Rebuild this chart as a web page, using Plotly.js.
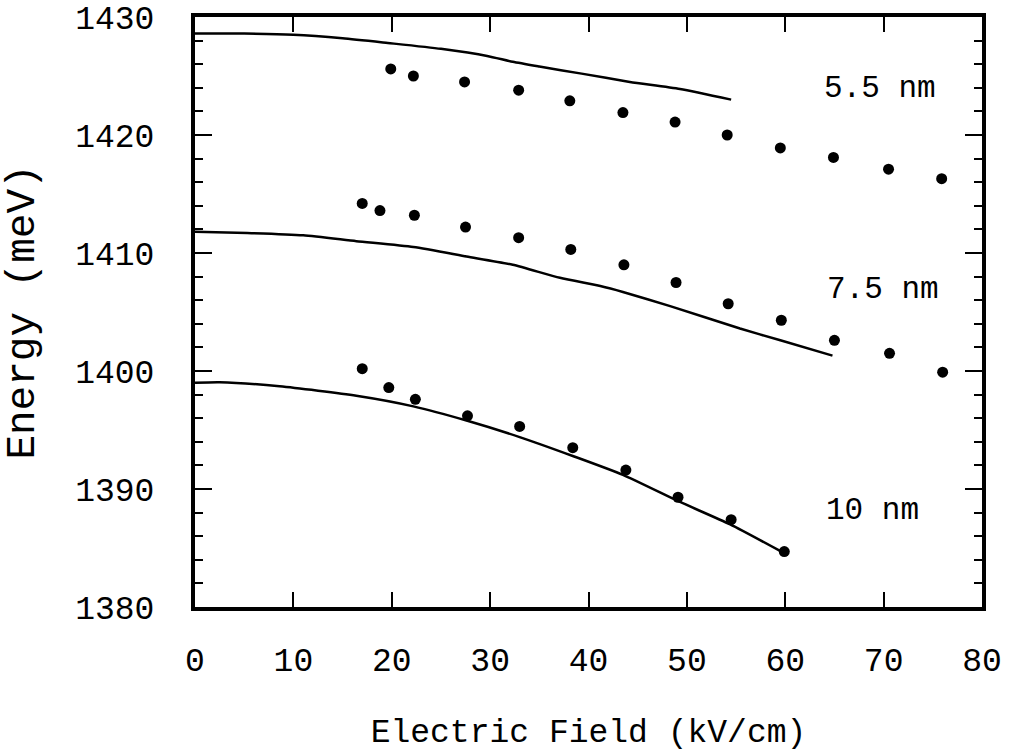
<!DOCTYPE html>
<html>
<head>
<meta charset="utf-8">
<script src="https://cdn.plot.ly/plotly-3.0.1.min.js"></script>
<style>html,body{margin:0;padding:0;background:#fff;}</style>
</head>
<body>
<div id="chart" style="width:1013px;height:755px;"></div>
<script>
// Measured points (Electric field kV/cm, Energy meV)
const x55Pts = [19.9, 22.2, 27.4, 32.9, 38.1, 43.5, 48.8, 54.1, 59.5, 64.9, 70.5, 75.9];
const y55Pts = [1425.6, 1425.0, 1424.5, 1423.8, 1422.9, 1421.9, 1421.1, 1420.0, 1418.9, 1418.1, 1417.1, 1416.3];
const x75Pts = [17.0, 18.8, 22.3, 27.5, 32.9, 38.2, 43.6, 48.9, 54.2, 59.6, 65.0, 70.6, 76.0];
const y75Pts = [1414.2, 1413.6, 1413.2, 1412.2, 1411.3, 1410.3, 1409.0, 1407.5, 1405.7, 1404.3, 1402.6, 1401.5, 1399.9];
const x10Pts = [17.0, 19.7, 22.4, 27.7, 33.0, 38.4, 43.8, 49.1, 54.5, 59.9];
const y10Pts = [1400.2, 1398.6, 1397.6, 1396.2, 1395.3, 1393.5, 1391.6, 1389.3, 1387.4, 1384.7];

// Calculated curves
const x55Fit = [0, 5, 10, 15, 19.6, 25, 29.7, 32.3, 35, 39.3, 44.2, 49.3, 54.5];
const y55Fit = [1428.6, 1428.6, 1428.5, 1428.2, 1427.8, 1427.3, 1426.7, 1426.2, 1425.8, 1425.2, 1424.5, 1423.9, 1423.0];
const x75Fit = [0, 5.3, 11.0, 16.4, 22.2, 27.6, 32.3, 37.1, 41.2, 43.5, 48.3, 55.4, 59.5, 64.8];
const y75Fit = [1411.8, 1411.7, 1411.5, 1411.0, 1410.5, 1409.7, 1409.0, 1407.9, 1407.2, 1406.7, 1405.5, 1403.6, 1402.6, 1401.3];
const x10Fit = [0, 2.5, 8.6, 16.4, 22.2, 27.6, 33.0, 38.4, 43.5, 49.3, 54.4, 59.8];
const y10Fit = [1399.0, 1399.05, 1398.7, 1397.9, 1397.0, 1395.8, 1394.4, 1392.8, 1391.2, 1388.9, 1387.0, 1384.6];

const seriesLabels = ["5.5 nm", "7.5 nm", "10 nm"];
const labelX = [69.6, 69.9, 68.9];
const labelY = [1423.9, 1406.9, 1388.2];

const xTicks = [0, 10, 20, 30, 40, 50, 60, 70, 80];
const yTicks = [1380, 1390, 1400, 1410, 1420, 1430];

const FONT = "Liberation Mono, Courier New, monospace";

const lineStyle = {color: "#000", width: 2.5, shape: "spline", smoothing: 0.6};
const markerStyle = {color: "#000", size: 11};

const traces = [
  {x: x55Fit, y: y55Fit, mode: "lines", line: lineStyle, hoverinfo: "skip"},
  {x: x75Fit, y: y75Fit, mode: "lines", line: lineStyle, hoverinfo: "skip"},
  {x: x10Fit, y: y10Fit, mode: "lines", line: lineStyle, hoverinfo: "skip"},
  {x: x55Pts, y: y55Pts, mode: "markers", marker: markerStyle},
  {x: x75Pts, y: y75Pts, mode: "markers", marker: markerStyle},
  {x: x10Pts, y: y10Pts, mode: "markers", marker: markerStyle}
];

const annotations = seriesLabels.map((t, i) => ({
  x: labelX[i], y: labelY[i], xref: "x", yref: "y", text: t, showarrow: false,
  font: {family: FONT, size: 31, color: "#000"}, xanchor: "center", yanchor: "middle"
}));

const layout = {
  width: 1013, height: 755,
  margin: {l: 195, r: 31, t: 17, b: 148, pad: 0},
  paper_bgcolor: "#fff", plot_bgcolor: "#fff",
  showlegend: false,
  font: {family: FONT, color: "#000"},
  xaxis: {
    range: [0, 80], tickvals: xTicks, ticktext: xTicks.map(String),
    ticks: "inside", ticklen: 15, tickwidth: 2, tickcolor: "#000",
    showline: true, linewidth: 4, linecolor: "#000", mirror: "allticks",
    showgrid: false, zeroline: false,
    tickfont: {family: FONT, size: 33, color: "#000"},
    ticklabelstandoff: 20,
    title: {text: "Electric Field (kV/cm)", font: {family: FONT, size: 33, color: "#000"}, standoff: 40},
    automargin: false
  },
  yaxis: {
    range: [1380, 1430], tickvals: yTicks, ticktext: yTicks.map(String),
    ticks: "inside", ticklen: 17, tickwidth: 2, tickcolor: "#000",
    minor: {dtick: 2, tick0: 1380, ticks: "inside", ticklen: 8, tickwidth: 2, tickcolor: "#000", showgrid: false},
    showline: true, linewidth: 4, linecolor: "#000", mirror: "allticks",
    showgrid: false, zeroline: false,
    tickfont: {family: FONT, size: 33, color: "#000"},
    ticklabelstandoff: 30,
    title: {text: "Energy (meV)", font: {family: FONT, size: 41, color: "#000"}, standoff: 30},
    automargin: false
  },
  annotations: annotations
};

Plotly.newPlot("chart", traces, layout, {displayModeBar: false, staticPlot: true});
</script>
</body>
</html>
